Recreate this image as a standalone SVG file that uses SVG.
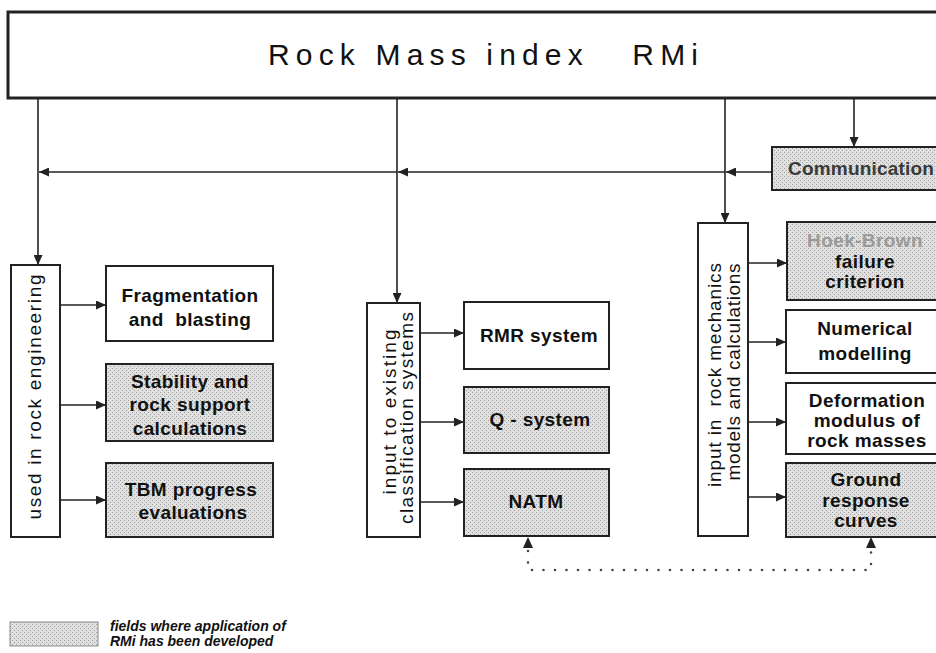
<svg xmlns="http://www.w3.org/2000/svg" width="936" height="653" viewBox="0 0 936 653">
<style>
.box{fill:#fff;stroke:#222;stroke-width:2}
.gbox{fill:url(#stip);stroke:#222;stroke-width:2}
.lbl{font-family:"Liberation Sans",Arial,sans-serif;font-weight:bold;font-size:19px;letter-spacing:0.4px;fill:#111;text-anchor:middle}
.vt{font-family:"Liberation Sans",Arial,sans-serif;font-size:19px;fill:#111;text-anchor:middle}
.con{fill:none;stroke:#222;stroke-width:1.6}
.dot{fill:none;stroke:#444;stroke-width:2.6;stroke-linecap:round;stroke-dasharray:0 11.5}
.leg{font-family:"Liberation Sans",Arial,sans-serif;font-weight:bold;font-style:italic;font-size:14px;fill:#111}
</style>
<defs>
<pattern id="stip" width="4" height="4" patternUnits="userSpaceOnUse">
<rect width="4" height="4" fill="#e0e0e0"/>
<rect x="0" y="0" width="1" height="1" fill="#9c9c9c"/>
<rect x="2" y="2" width="1" height="1" fill="#9c9c9c"/>
</pattern>
<marker id="ah" viewBox="0 0 10 9" refX="10" refY="4.5" markerWidth="10" markerHeight="9" markerUnits="userSpaceOnUse" orient="auto-start-reverse">
<path d="M0,0 L10,4.5 L0,9 z" fill="#222"/>
</marker>
</defs>

<g id="rmi">
<rect x="8" y="12" width="940" height="86" fill="#fff" stroke="#222" stroke-width="3"/>
<text x="268" y="65" xml:space="preserve" font-family="Liberation Sans, Arial, sans-serif" font-size="30" fill="#111" textLength="430" lengthAdjust="spacing">Rock Mass index   RMi</text>
</g>

<g id="communication">
<rect class="gbox" x="772" y="147" width="175" height="43"/>
<text x="788" y="175" font-family="Liberation Sans, Arial, sans-serif" font-weight="bold" font-size="19" fill="#3a3a3a" letter-spacing="0.2">Communication</text>
</g>

<g id="used-in-rock-engineering">
<rect class="box" x="11" y="265" width="49" height="272"/>
<text class="vt" transform="translate(41,397) rotate(-90)" textLength="245" lengthAdjust="spacing">used in rock engineering</text>
</g>

<g id="fragmentation">
<rect class="box" x="106" y="266" width="167" height="75"/>
<text class="lbl" x="190" y="302">Fragmentation</text>
<text class="lbl" x="190" y="326" xml:space="preserve">and  blasting</text>
</g>

<g id="stability">
<rect class="gbox" x="106" y="364" width="167" height="77"/>
<text class="lbl" x="190" y="388">Stability and</text>
<text class="lbl" x="190" y="411">rock support</text>
<text class="lbl" x="190" y="435">calculations</text>
</g>

<g id="tbm">
<rect class="gbox" x="106" y="463" width="167" height="74"/>
<text class="lbl" x="191" y="496">TBM progress</text>
<text class="lbl" x="193" y="519">evaluations</text>
</g>

<g id="input-classification">
<rect class="box" x="367" y="303" width="53" height="234"/>
<text class="vt" transform="translate(396,412) rotate(-90)" textLength="165" lengthAdjust="spacing">input to existing</text>
<text class="vt" transform="translate(413,418) rotate(-90)" textLength="212" lengthAdjust="spacing">classification systems</text>
</g>

<g id="rmr">
<rect class="box" x="464" y="302" width="145" height="67"/>
<text class="lbl" x="539" y="342">RMR system</text>
</g>

<g id="q-system">
<rect class="gbox" x="464" y="387" width="145" height="66"/>
<text class="lbl" x="540" y="426">Q - system</text>
</g>

<g id="natm">
<rect class="gbox" x="464" y="469" width="145" height="67"/>
<text class="lbl" x="536" y="508">NATM</text>
</g>

<g id="input-rock-mechanics">
<rect class="box" x="698" y="223" width="50" height="313"/>
<text class="vt" transform="translate(721,375) rotate(-90)" xml:space="preserve" textLength="224" lengthAdjust="spacing">input in  rock mechanics</text>
<text class="vt" transform="translate(740,372) rotate(-90)" textLength="217" lengthAdjust="spacing">models and calculations</text>
</g>

<g id="hoek-brown">
<rect class="gbox" x="787" y="222" width="160" height="78"/>
<text class="lbl" x="865" y="247" style="fill:#9a9a9a">Hoek-Brown</text>
<text class="lbl" x="865" y="268">failure</text>
<text class="lbl" x="865" y="288">criterion</text>
</g>

<g id="numerical">
<rect class="box" x="786" y="310" width="160" height="63"/>
<text class="lbl" x="865" y="335">Numerical</text>
<text class="lbl" x="865" y="360">modelling</text>
</g>

<g id="deformation">
<rect class="box" x="786" y="383" width="160" height="71"/>
<text class="lbl" x="867" y="407">Deformation</text>
<text class="lbl" x="867" y="427">modulus of</text>
<text class="lbl" x="867" y="447">rock masses</text>
</g>

<g id="ground">
<rect class="gbox" x="786" y="463" width="160" height="74"/>
<text class="lbl" x="866" y="486">Ground</text>
<text class="lbl" x="866" y="507">response</text>
<text class="lbl" x="866" y="527">curves</text>
</g>

<g id="legend">
<rect x="10" y="622" width="88" height="24" fill="url(#stip)" stroke="#888" stroke-width="1"/>
<text class="leg" x="110" y="631">fields where application of</text>
<text class="leg" x="110" y="646">RMi has been developed</text>
</g>

<g id="connectors">
<path class="con" d="M38,98 V265" marker-end="url(#ah)"/>
<path class="con" d="M397,98 V303" marker-end="url(#ah)"/>
<path class="con" d="M725,98 V223" marker-end="url(#ah)"/>
<path class="con" d="M854,98 V147" marker-end="url(#ah)"/>
<path class="con" d="M772,172 H726" marker-end="url(#ah)"/>
<path class="con" d="M725,172 H398" marker-end="url(#ah)"/>
<path class="con" d="M397,172 H39" marker-end="url(#ah)"/>
<path class="con" d="M60,305 H106" marker-end="url(#ah)"/>
<path class="con" d="M60,405 H106" marker-end="url(#ah)"/>
<path class="con" d="M60,500 H106" marker-end="url(#ah)"/>
<path class="con" d="M420,333 H464" marker-end="url(#ah)"/>
<path class="con" d="M420,422 H464" marker-end="url(#ah)"/>
<path class="con" d="M420,502 H464" marker-end="url(#ah)"/>
<path class="con" d="M748,263 H787" marker-end="url(#ah)"/>
<path class="con" d="M748,342 H786" marker-end="url(#ah)"/>
<path class="con" d="M748,422 H786" marker-end="url(#ah)"/>
<path class="con" d="M748,497 H786" marker-end="url(#ah)"/>
<path class="dot" d="M528,551 V570 H871 V551"/>
<path d="M523,548 L528,537 L533,548 z" fill="#222"/>
<path d="M866,548 L871,537 L876,548 z" fill="#222"/>
</g>
</svg>
